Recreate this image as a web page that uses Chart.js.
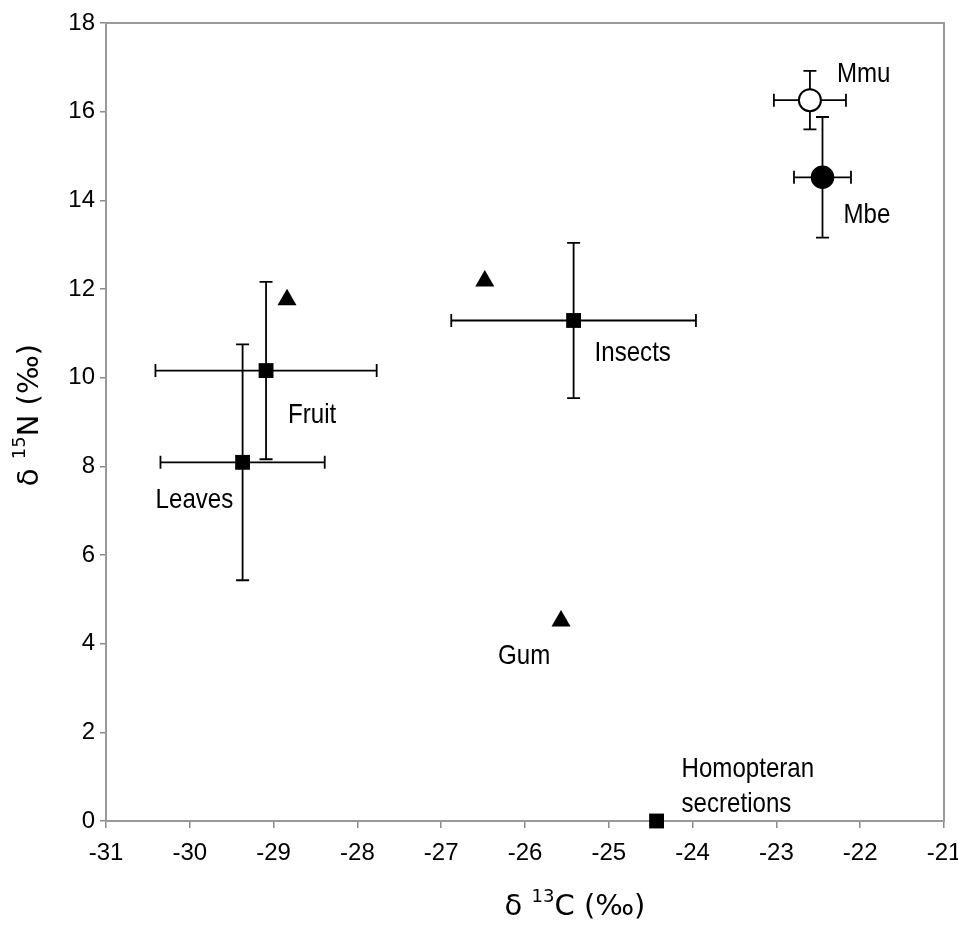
<!DOCTYPE html>
<html><head><meta charset="utf-8">
<script src="https://cdn.jsdelivr.net/npm/chart.js@4.4.1/dist/chart.umd.min.js"></script>
<style>html,body{margin:0;padding:0;background:#fff}#wrap{width:958px;height:927px}</style>
</head><body><div id="wrap"><canvas id="c" width="958" height="927"></canvas></div>
<script>
// ---- data ----
const foodNames = ["Leaves", "Fruit", "Insects", "Homopteran\nsecretions"];
const foodC     = [-29.37, -29.09, -25.42, -24.43];
const foodN     = [8.09, 10.16, 11.29, 0];
const foodCerr  = [0.98, 1.32, 1.46, 0];
const foodNerr  = [2.66, 2.00, 1.75, 0];

const triNames = ["", "", "Gum"];
const triC     = [-28.84, -26.48, -25.57];
const triN     = [11.76, 12.18, 4.51];

const mmuNames = ["Mmu"];
const mmuC = [-22.60], mmuN = [16.26], mmuCerr = [0.43], mmuNerr = [0.66];
const mbeNames = ["Mbe"];
const mbeC = [-22.45], mbeN = [14.52], mbeCerr = [0.34], mbeNerr = [1.36];

const xTicks = [-31, -30, -29, -28, -27, -26, -25, -24, -23, -22, -21];
const yTicks = [0, 2, 4, 6, 8, 10, 12, 14, 16, 18];

// ---- styling (label offsets in px relative to the point) ----
const labelOffsets = {
  "Leaves": [-87, 46], "Fruit": [22, 52], "Insects": [21, 41],
  "Homopteran\nsecretions": [25, -44], "Gum": [-63, 43],
  "Mmu": [27, -18], "Mbe": [21, 46]
};
const FONT = '"Liberation Sans", Arial, sans-serif';

const pts = (xs, ys) => xs.map((x, i) => ({x: x, y: ys[i]}));

const errorBars = {
  id: 'errorBars',
  beforeDatasetsDraw(chart) {
    const ctx = chart.ctx, xs = chart.scales.x, ys = chart.scales.y;
    ctx.save();
    ctx.strokeStyle = '#000'; ctx.lineWidth = 1.8;
    chart.data.datasets.forEach(ds => {
      if (!ds.xerr) return;
      ds.data.forEach((p, i) => {
        const cx = xs.getPixelForValue(p.x), cy = ys.getPixelForValue(p.y);
        const cap = 6.5;
        if (ds.xerr[i] > 0) {
          const x1 = xs.getPixelForValue(p.x - ds.xerr[i]), x2 = xs.getPixelForValue(p.x + ds.xerr[i]);
          ctx.beginPath();
          ctx.moveTo(x1, cy); ctx.lineTo(x2, cy);
          ctx.moveTo(x1, cy - cap); ctx.lineTo(x1, cy + cap);
          ctx.moveTo(x2, cy - cap); ctx.lineTo(x2, cy + cap);
          ctx.stroke();
        }
        if (ds.yerr[i] > 0) {
          const y1 = ys.getPixelForValue(p.y - ds.yerr[i]), y2 = ys.getPixelForValue(p.y + ds.yerr[i]);
          ctx.beginPath();
          ctx.moveTo(cx, y1); ctx.lineTo(cx, y2);
          ctx.moveTo(cx - cap, y1); ctx.lineTo(cx + cap, y1);
          ctx.moveTo(cx - cap, y2); ctx.lineTo(cx + cap, y2);
          ctx.stroke();
        }
      });
    });
    ctx.restore();
  }
};

const frameAndLabels = {
  id: 'frameAndLabels',
  beforeDatasetsDraw(chart) {
    const ctx = chart.ctx, a = chart.chartArea;
    ctx.save();
    ctx.strokeStyle = '#999'; ctx.lineWidth = 2;
    ctx.strokeRect(a.left, a.top, a.right - a.left, a.bottom - a.top);
    ctx.restore();
  },
  afterDatasetsDraw(chart) {
    const ctx = chart.ctx, xs = chart.scales.x, ys = chart.scales.y;
    ctx.save();
    ctx.fillStyle = '#000';
    ctx.font = '28px ' + FONT;
    ctx.textBaseline = 'alphabetic';
    const squeeze = 0.86;
    chart.data.datasets.forEach(ds => {
      (ds.names || []).forEach((name, i) => {
        if (!name) return;
        const p = ds.data[i];
        const off = labelOffsets[name] || [10, 0];
        const px = xs.getPixelForValue(p.x) + off[0], py = ys.getPixelForValue(p.y) + off[1];
        name.split('\n').forEach((line, k) => {
          ctx.save();
          ctx.translate(px, py + k * 35);
          ctx.scale(squeeze, 1);
          ctx.fillText(line, 0, 0);
          ctx.restore();
        });
      });
    });
    // axis titles with superscripts
    const drawTitle = (pre, sup, post, cx, cy, rot) => {
      const big = '29px "DejaVu Sans", sans-serif', small = '18px "DejaVu Sans", sans-serif';
      ctx.font = big; const w1 = ctx.measureText(pre).width;
      ctx.font = small; const w2 = ctx.measureText(sup).width;
      ctx.font = big; const w3 = ctx.measureText(post).width;
      const tot = w1 + w2 + w3;
      ctx.save();
      ctx.translate(cx, cy); ctx.rotate(rot);
      ctx.textBaseline = 'middle'; ctx.textAlign = 'left';
      let x = -tot / 2;
      ctx.font = big; ctx.fillText(pre, x, 0); x += w1;
      ctx.font = small; ctx.fillText(sup, x, -10); x += w2;
      ctx.font = big; ctx.fillText(post, x, 0);
      ctx.restore();
    };
    drawTitle('\u03b4 ', '13', 'C (\u2030)', 575, 907, 0);
    drawTitle('\u03b4 ', '15', 'N (\u2030)', 30, 415, -Math.PI / 2);
    ctx.restore();
  }
};

new Chart(document.getElementById('c'), {
  type: 'scatter',
  data: {
    datasets: [
      { label: 'Food', names: foodNames, data: pts(foodC, foodN), xerr: foodCerr, yerr: foodNerr,
        pointStyle: 'rect', pointRadius: 10.5, backgroundColor: '#000', borderColor: '#000', borderWidth: 0, clip: false },
      { label: 'Food2', names: triNames, data: pts(triC, triN),
        pointStyle: 'triangle', pointRadius: 11, backgroundColor: '#000', borderColor: '#000', borderWidth: 0, clip: false },
      { label: 'Mbe', names: mbeNames, data: pts(mbeC, mbeN), xerr: mbeCerr, yerr: mbeNerr,
        pointStyle: 'circle', pointRadius: 11, backgroundColor: '#000', borderColor: '#000', borderWidth: 1.5, clip: false },
      { label: 'Mmu', names: mmuNames, data: pts(mmuC, mmuN), xerr: mmuCerr, yerr: mmuNerr,
        pointStyle: 'circle', pointRadius: 11, backgroundColor: '#fff', borderColor: '#000', borderWidth: 2, clip: false }
    ]
  },
  options: {
    responsive: false, animation: false, devicePixelRatio: 1,
    layout: { padding: { top: 23, right: 14, left: 0, bottom: 0 } },
    plugins: { legend: { display: false }, tooltip: { enabled: false } },
    scales: {
      x: {
        type: 'linear', min: -31, max: -21,
        afterBuildTicks: s => { s.ticks = xTicks.map(v => ({ value: v })); },
        afterFit: s => { s.height = 106; s.paddingLeft = 0; s.paddingRight = 0; },
        grid: { drawOnChartArea: false, tickLength: 7, color: '#8a8a8a', lineWidth: 1.5 },
        border: { display: true, color: '#707070', width: 2 },
        ticks: { color: '#000', padding: 11, font: { family: FONT, size: 24 }, maxRotation: 0 }
      },
      y: {
        type: 'linear', min: 0, max: 18,
        afterBuildTicks: s => { s.ticks = yTicks.map(v => ({ value: v })); },
        afterFit: s => { s.width = 106; s.paddingTop = 0; s.paddingBottom = 0; },
        grid: { drawOnChartArea: false, tickLength: 6, color: '#8a8a8a', lineWidth: 1.5 },
        border: { display: true, color: '#707070', width: 2 },
        ticks: { color: '#000', padding: 5, font: { family: FONT, size: 24 } }
      }
    }
  },
  plugins: [errorBars, frameAndLabels]
});
</script></body></html>
